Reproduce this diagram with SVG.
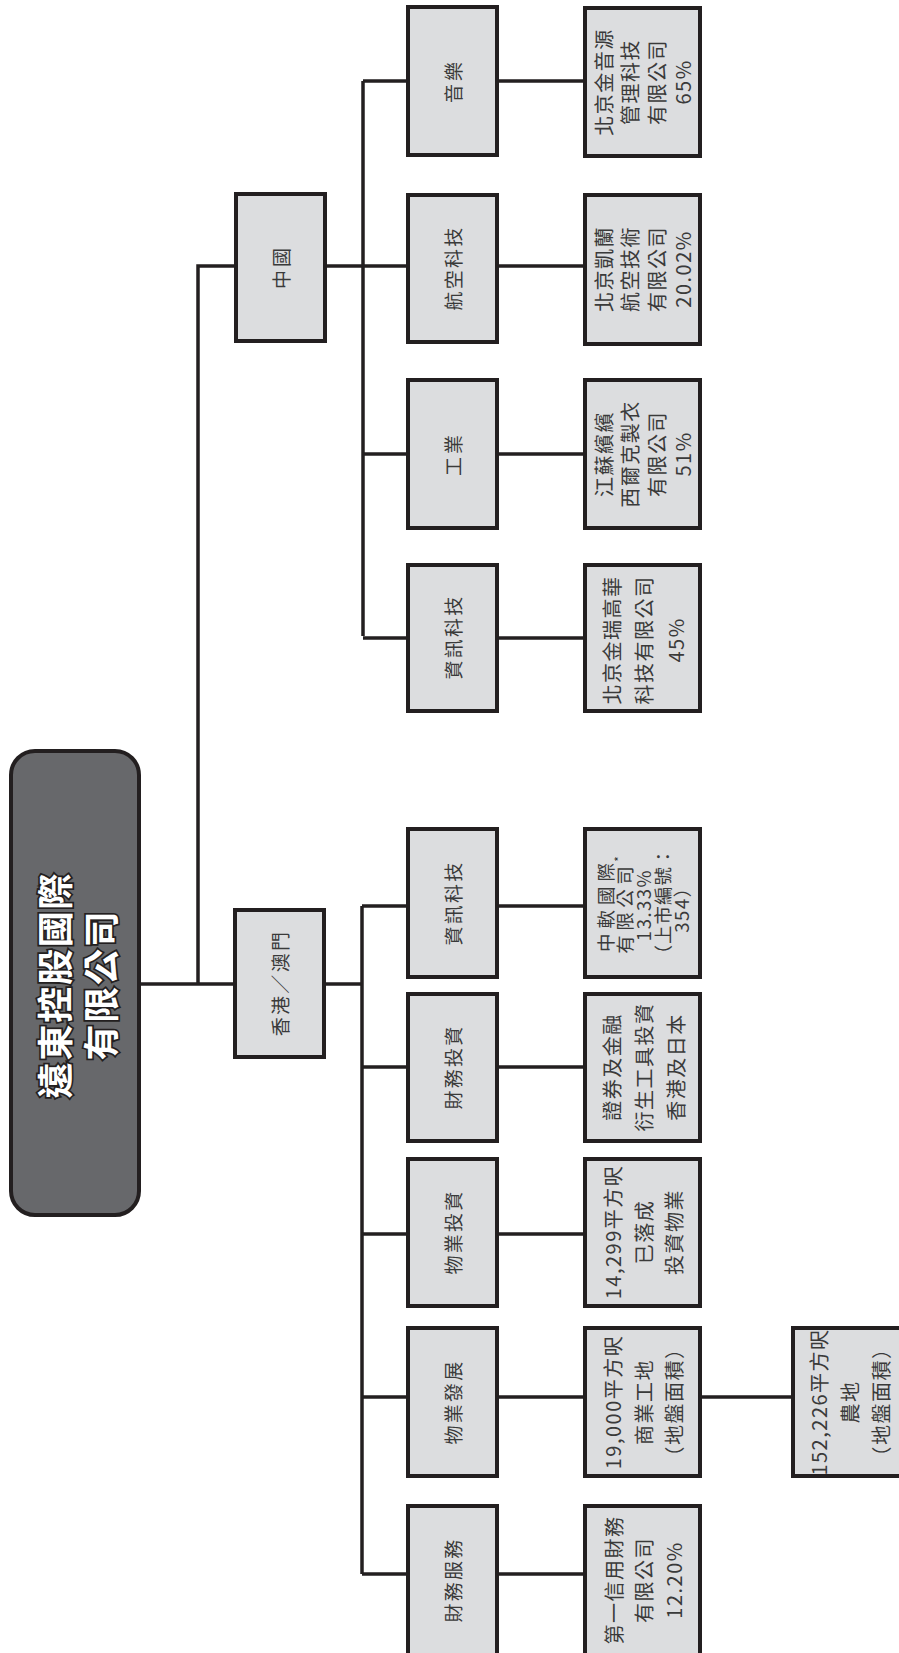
<svg xmlns="http://www.w3.org/2000/svg" width="899" height="1653" viewBox="0 0 899 1653">
<style>
.bx{fill:#dcdddf;stroke:#231f20;stroke-width:4}
.root{fill:#67686b;stroke:#231f20;stroke-width:4}
.ln{stroke:#231f20;stroke-width:3.5;fill:none}
.t{font-family:"Noto Sans CJK TC","Noto Sans CJK SC","Noto Sans",sans-serif;fill:#3a3a3a;text-anchor:middle;dominant-baseline:central}
.l2{font-size:19px;letter-spacing:2.3px}
.l3{font-size:20px;letter-spacing:1.5px}
.sm{font-size:18.5px;letter-spacing:1.5px}
.ttl{font-family:"Noto Sans CJK TC","Noto Sans CJK SC",sans-serif;font-size:36px;font-weight:bold;fill:#fff;stroke:#231f20;stroke-width:3.5;paint-order:stroke;text-anchor:middle;dominant-baseline:central;letter-spacing:1.8px}
</style>
<g id="connectors">
<path class="ln" d="M140 984H234M198 984V266H236M325 266H363M363 81V636M363 81H408M363 266H408M363 454H408M363 638H408"/>
<path class="ln" d="M497 81H585M497 266H585M497 454H585M497 638H585"/>
<path class="ln" d="M324 984H362M362 906V1574M362 906H408M362 1067H408M362 1234H408M362 1397H408M362 1574H408"/>
<path class="ln" d="M497 906H585M497 1067H585M497 1234H585M497 1397H585M497 1574H585M700 1397H793"/>
</g>
<g id="root">
<rect class="root" x="11" y="751" width="128" height="464" rx="24"/>
<text class="ttl" transform="translate(76,985) rotate(-90)"><tspan x="0" y="-23">遠東控股國際</tspan><tspan x="0" y="23">有限公司</tspan></text>
</g>
<g id="hk">
<rect class="bx" x="235" y="910" width="89" height="147"/>
<text class="t l2" transform="translate(279.5,983) rotate(-90)">香港／澳門</text>
</g>
<g id="china">
<rect class="bx" x="236" y="194" width="89" height="147"/>
<text class="t l2" transform="translate(280.5,267) rotate(-90)" style="letter-spacing:3px">中國</text>
</g>
<g id="music">
<rect class="bx" x="408" y="7" width="89" height="148"/>
<text class="t l2" transform="translate(452.5,81) rotate(-90)" style="letter-spacing:3px">音樂</text>
</g>
<g id="aero">
<rect class="bx" x="408" y="195" width="89" height="147"/>
<text class="t l2" transform="translate(452.5,268) rotate(-90)">航空科技</text>
</g>
<g id="industry">
<rect class="bx" x="408" y="380" width="89" height="148"/>
<text class="t l2" transform="translate(452.5,454) rotate(-90)" style="letter-spacing:3px">工業</text>
</g>
<g id="it-cn">
<rect class="bx" x="408" y="565" width="89" height="146"/>
<text class="t l2" transform="translate(452.5,637) rotate(-90)">資訊科技</text>
</g>
<g id="it-hk">
<rect class="bx" x="408" y="829" width="89" height="148"/>
<text class="t l2" transform="translate(452.5,903) rotate(-90)">資訊科技</text>
</g>
<g id="fin-inv">
<rect class="bx" x="408" y="994" width="89" height="147"/>
<text class="t l2" transform="translate(452.5,1067) rotate(-90)">財務投資</text>
</g>
<g id="prop-inv">
<rect class="bx" x="408" y="1159" width="89" height="147"/>
<text class="t l2" transform="translate(452.5,1232) rotate(-90)">物業投資</text>
</g>
<g id="prop-dev">
<rect class="bx" x="408" y="1328" width="89" height="148"/>
<text class="t l2" transform="translate(452.5,1402) rotate(-90)">物業發展</text>
</g>
<g id="fin-svc">
<rect class="bx" x="408" y="1506" width="89" height="150"/>
<text class="t l2" transform="translate(452.5,1580) rotate(-90)">財務服務</text>
</g>
<g id="c-music">
<rect class="bx" x="585" y="8" width="115" height="148"/>
<text class="t l3" transform="translate(642.5,82) rotate(-90)"><tspan x="0" y="-39.75">北京金音源</tspan><tspan x="0" y="-13.25">管理科技</tspan><tspan x="0" y="13.25">有限公司</tspan><tspan x="0" y="39.75">65%</tspan></text>
</g>
<g id="c-aero">
<rect class="bx" x="585" y="195" width="115" height="149"/>
<text class="t l3" transform="translate(642.5,269) rotate(-90)"><tspan x="0" y="-39.75">北京凱蘭</tspan><tspan x="0" y="-13.25">航空技術</tspan><tspan x="0" y="13.25">有限公司</tspan><tspan x="0" y="39.75">20.02%</tspan></text>
</g>
<g id="c-industry">
<rect class="bx" x="585" y="380" width="115" height="148"/>
<text class="t l3" transform="translate(642.5,454) rotate(-90)"><tspan x="0" y="-39.75">江蘇繽繽</tspan><tspan x="0" y="-13.25">西爾克製衣</tspan><tspan x="0" y="13.25">有限公司</tspan><tspan x="0" y="39.75">51%</tspan></text>
</g>
<g id="c-it-cn">
<rect class="bx" x="585" y="565" width="115" height="146"/>
<text class="t l3" transform="translate(642.5,640) rotate(-90)"><tspan x="0" y="-32">北京金瑞高華</tspan><tspan x="0" y="0">科技有限公司</tspan><tspan x="0" y="32">45%</tspan></text>
</g>
<g id="c-it-hk">
<rect class="bx" x="585" y="829" width="115" height="148"/>
<text class="t sm" transform="translate(642.5,905) rotate(-90)"><tspan x="0" y="-38" style="letter-spacing:5px">中軟國際</tspan><tspan x="0" y="-19" style="letter-spacing:4.5px">有限公司</tspan><tspan dy="-6" font-size="12" style="letter-spacing:0">*</tspan><tspan x="0" y="0">13.33%</tspan><tspan x="0" y="19" style="letter-spacing:1px">（上市編號：</tspan><tspan x="0" y="38">354）</tspan></text>
</g>
<g id="c-fin-inv">
<rect class="bx" x="585" y="994" width="115" height="147"/>
<text class="t l3" transform="translate(642.5,1067) rotate(-90)"><tspan x="0" y="-32">證券及金融</tspan><tspan x="0" y="0">衍生工具投資</tspan><tspan x="0" y="32">香港及日本</tspan></text>
</g>
<g id="c-prop-inv">
<rect class="bx" x="585" y="1159" width="115" height="147"/>
<text class="t l3" transform="translate(642.5,1232) rotate(-90)"><tspan x="0" y="-30.5">14,299平方呎</tspan><tspan x="0" y="0">已落成</tspan><tspan x="0" y="30.5">投資物業</tspan></text>
</g>
<g id="c-prop-dev">
<rect class="bx" x="585" y="1328" width="115" height="148"/>
<text class="t l3" transform="translate(642.5,1402) rotate(-90)"><tspan x="0" y="-30.5">19,000平方呎</tspan><tspan x="0" y="0">商業工地</tspan><tspan x="0" y="30.5">（地盤面積）</tspan></text>
</g>
<g id="c-fin-svc">
<rect class="bx" x="585" y="1506" width="115" height="150"/>
<text class="t l3" transform="translate(642.5,1580) rotate(-90)"><tspan x="0" y="-30">第一信用財務</tspan><tspan x="0" y="0">有限公司</tspan><tspan x="0" y="30">12.20%</tspan></text>
</g>
<g id="farm">
<rect class="bx" x="793" y="1328" width="115" height="148"/>
<text class="t l3" transform="translate(849,1402) rotate(-90)"><tspan x="0" y="-31">152,226平方呎</tspan><tspan x="0" y="0">農地</tspan><tspan x="0" y="31">（地盤面積）</tspan></text>
</g>
</svg>
